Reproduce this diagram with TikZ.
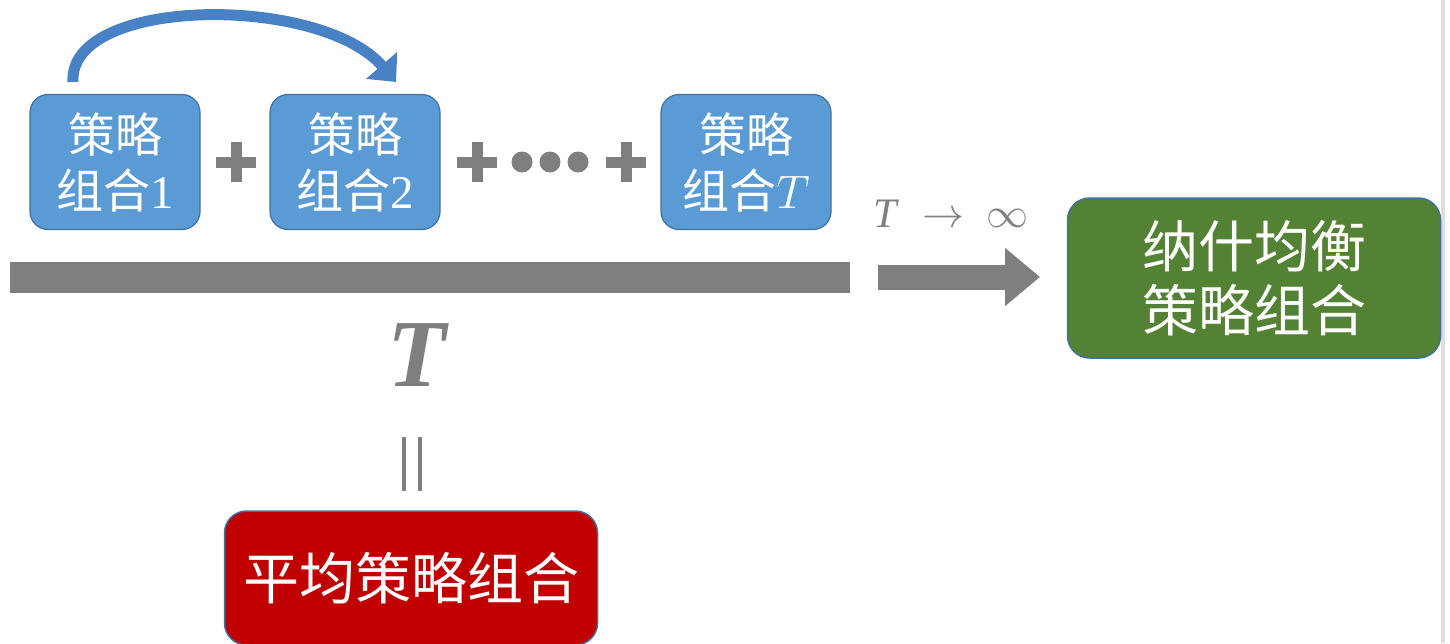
\RequirePackage{fix-cm}
\documentclass[tikz,border=0pt]{standalone}
\usepackage{fontspec}
\newfontfamily\cjk{Noto Sans CJK SC}
\newfontfamily\tms{Liberation Serif}
\usetikzlibrary{arrows.meta}
\definecolor{boxblue}{RGB}{91,155,213}
\definecolor{edgeblue}{RGB}{65,113,156}
\definecolor{arcblue}{RGB}{72,130,196}
\definecolor{midgray}{RGB}{127,127,127}
\definecolor{nashgreen}{RGB}{84,130,53}
\definecolor{avgred}{RGB}{192,0,0}
\tikzset{
  stratbox/.style={draw=edgeblue, line width=1.2pt, fill=boxblue, rounded corners=18pt,
    minimum width=170pt, minimum height=135pt, text=white, align=center, inner sep=0pt,
    font=\cjk\fontsize{47}{56}\selectfont},
  bigbox/.style={draw=edgeblue, line width=1.5pt, rounded corners=22pt, text=white,
    align=center, inner sep=0pt, font=\cjk\fontsize{56}{64}\selectfont},
  plussign/.style={midgray, line width=11pt},
  dotmark/.style={circle, fill=midgray, minimum size=21pt, inner sep=0pt},
}
\begin{document}
\begin{tikzpicture}[x=1pt,y=-1pt]
\useasboundingbox (0,0) rectangle (1450,643);
\fill[white] (0,0) rectangle (1450,643);
\fill[black!13] (1441,0) rectangle (1445,643);

% strategy boxes
\node[stratbox] (s1) at (115,162) {策略\\组合{\tms 1}};
\node[stratbox] (s2) at (355,162) {策略\\组合{\tms 2}};
\node[stratbox] (sT) at (746,162) {策略\\组合$T$};

% plus signs and dots
\coordinate (p1) at (236,162);
\coordinate (p2) at (477,162);
\coordinate (p3) at (626,162);
\foreach \p in {p1,p2,p3}{
  \draw[plussign] ([xshift=-20pt]\p) -- ([xshift=20pt]\p);
  \draw[plussign] ([yshift=-20pt]\p) -- ([yshift=20pt]\p);
}
\node[dotmark] (d1) at (522,162) {};
\node[dotmark] (d2) at (550,162) {};
\node[dotmark] (d3) at (578,162) {};

% curved arrow from box 1 to box 2
\coordinate (a0) at (73,82);
\coordinate (a1) at (396,82);
\draw[arcblue, line width=11pt, -{Triangle[width=40pt,length=22pt]}]
  (a0) .. controls (68,-4) and (320,-6) .. (a1);

% long gray bar
\fill[midgray] (10,262) rectangle (850,293);

% gray arrow
\coordinate (g0) at (878,277);
\coordinate (g1) at (1040,277);
\draw[midgray, line width=25pt, -{Triangle[width=56pt,length=35pt]}] (g0) -- (g1);
\node[text=midgray, font=\fontsize{42}{42}\selectfont] (lim) at (951,214)
  {{\tms\itshape T}\hspace{26pt}$\rightarrow$\hspace{22pt}$\infty$};

% Nash box
\node[bigbox, fill=nashgreen, minimum width=373pt, minimum height=160pt] (nash) at (1254,278) {纳什均衡\\策略组合};

% big T and parallel sign
\node[text=midgray, font=\tms\bfseries\itshape\fontsize{96}{96}\selectfont] (bigT) at (417,355) {T};
\coordinate (v1) at (404,437);
\coordinate (v2) at (404,491);
\coordinate (w1) at (420,437);
\coordinate (w2) at (420,491);
\draw[midgray, line width=4pt] (v1) -- (v2);
\draw[midgray, line width=4pt] (w1) -- (w2);

% average box
\node[bigbox, fill=avgred, minimum width=373pt, minimum height=134pt] (avg) at (411,578) {平均策略组合};
\end{tikzpicture}
\end{document}
